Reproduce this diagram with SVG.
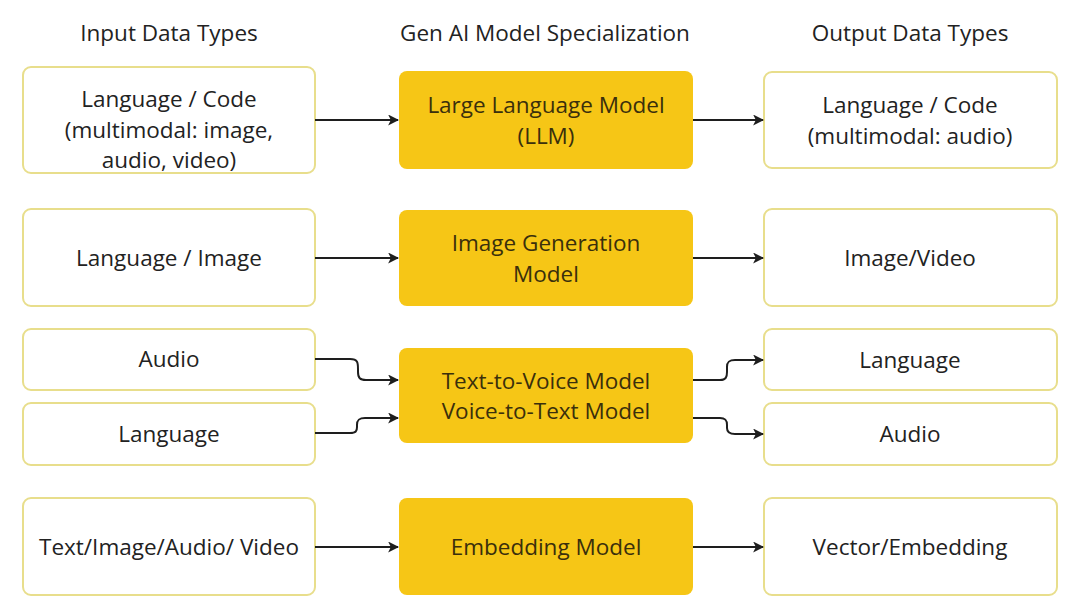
<svg xmlns="http://www.w3.org/2000/svg" width="1080" height="608" viewBox="0 0 1080 608">
<defs>
<marker id="ah" viewBox="0 0 10 10" refX="9" refY="5" markerWidth="11" markerHeight="11" markerUnits="userSpaceOnUse" orient="auto">
<path d="M0,0 L10,5 L0,10 L2.5,5 Z" fill="#1e1e1e"/>
</marker>
<style>
text{font-family:"Open Sans","Noto Sans",sans-serif;font-size:22.5px;text-anchor:middle;fill:#222}
.in{fill:#fff;stroke:#e8de8c;stroke-width:2}
.md{fill:#f6c616}
.md text,text.mt{fill:#3a2f0c}
.c{fill:none;stroke:#1e1e1e;stroke-width:2;marker-end:url(#ah)}
</style>
</defs>
<rect width="1080" height="608" fill="#fff"/>
<g id="titles">
<text x="169" y="41">Input Data Types</text>
<text x="545" y="41">Gen AI Model Specialization</text>
<text x="910" y="41">Output Data Types</text>
</g>
<g id="in1"><rect class="in" x="23" y="67" width="292" height="106" rx="8"/>
<text x="169" y="107">Language / Code</text><text x="169" y="138">(multimodal: image,</text><text x="169" y="168">audio, video)</text></g>
<g id="in2"><rect class="in" x="23" y="209" width="292" height="97" rx="8"/>
<text x="169" y="266">Language / Image</text></g>
<g id="in3"><rect class="in" x="23" y="329" width="292" height="61" rx="8"/>
<text x="169" y="367">Audio</text></g>
<g id="in4"><rect class="in" x="23" y="403" width="292" height="62" rx="8"/>
<text x="169" y="442">Language</text></g>
<g id="in5"><rect class="in" x="23" y="498" width="292" height="97" rx="8"/>
<text x="169" y="555">Text/Image/Audio/ Video</text></g>

<g id="m1"><rect class="md" x="399" y="71" width="294" height="98" rx="8"/>
<text class="mt" x="546" y="113">Large Language Model</text><text class="mt" x="546" y="144">(LLM)</text></g>
<g id="m2"><rect class="md" x="399" y="210" width="294" height="96" rx="8"/>
<text class="mt" x="546" y="251">Image Generation</text><text class="mt" x="546" y="282">Model</text></g>
<g id="m3"><rect class="md" x="399" y="348" width="294" height="95" rx="8"/>
<text class="mt" x="546" y="389">Text-to-Voice Model</text><text class="mt" x="546" y="419">Voice-to-Text Model</text></g>
<g id="m4"><rect class="md" x="399" y="498" width="294" height="97" rx="8"/>
<text class="mt" x="546" y="555">Embedding Model</text></g>

<g id="o1"><rect class="in" x="764" y="72" width="293" height="96" rx="8"/>
<text x="910" y="113">Language / Code</text><text x="910" y="144">(multimodal: audio)</text></g>
<g id="o2"><rect class="in" x="764" y="209" width="293" height="97" rx="8"/>
<text x="910" y="266">Image/Video</text></g>
<g id="o3"><rect class="in" x="764" y="329" width="293" height="61" rx="8"/>
<text x="910" y="368">Language</text></g>
<g id="o4"><rect class="in" x="764" y="403" width="293" height="62" rx="8"/>
<text x="910" y="442">Audio</text></g>
<g id="o5"><rect class="in" x="764" y="498" width="293" height="97" rx="8"/>
<text x="910" y="555">Vector/Embedding</text></g>

<g id="connectors">
<path class="c" d="M315,120 H398"/>
<path class="c" d="M693,120 H763"/>
<path class="c" d="M315,258 H398"/>
<path class="c" d="M693,258 H763"/>
<path class="c" d="M315,359 H350 C358,359 358,363 358,369 V372 C358,378 360,380 366,380 H398"/>
<path class="c" d="M315,433 H350 C356,433 357,431 357,427 V425 C357,420 359,418 365,418 H398"/>
<path class="c" d="M693,380 H720 C726,380 727,377 727,372 V367 C727,362 729,360 735,360 H763"/>
<path class="c" d="M693,418 H720 C726,418 727,421 727,425 V428 C727,432 729,434 735,434 H763"/>
<path class="c" d="M315,547 H398"/>
<path class="c" d="M693,547 H763"/>
</g>
</svg>
